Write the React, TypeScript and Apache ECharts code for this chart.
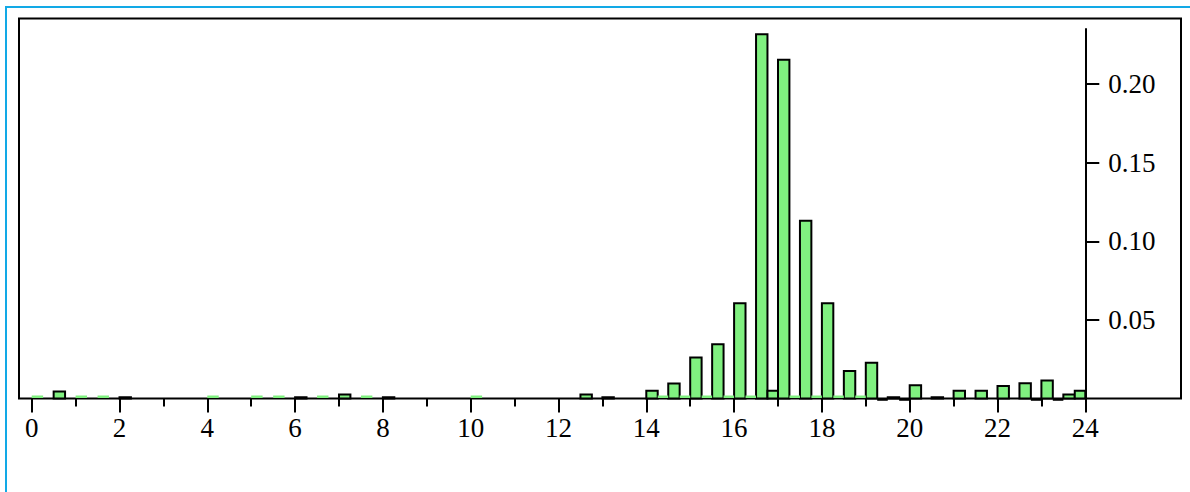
import React, { useEffect, useRef } from "react";
import * as echarts from "echarts";

// Histogram bins (left edge of each main bin) and their heights
const mainBinStarts = [
  0, 0.5, 1, 1.5, 2, 2.5, 3, 3.5, 4, 4.5, 5, 5.5, 6, 6.5, 7, 7.5, 8, 8.5, 9, 9.5,
  10, 10.5, 11, 11.5, 12, 12.5, 13, 13.5, 14, 14.5, 15, 15.5, 16, 16.5, 17, 17.5,
  18, 18.5, 19, 19.5, 20, 20.5, 21, 21.5, 22, 22.5, 23, 23.5,
];
const mainValues: (number | null)[] = [
  0, 0.0045, 0, 0, 0.0008, null, null, null, 0, null, 0, 0, 0.0008, 0, 0.0025, 0, 0.0008, null, null, null,
  0, null, null, null, null, 0.0025, 0.0008, null, 0.005, 0.0095, 0.026, 0.0345, 0.0605, 0.2316, 0.2155, 0.113,
  0.0605, 0.0175, 0.0228, 0.0008, 0.0085, 0.0008, 0.005, 0.005, 0.008, 0.0097, 0.0115, 0.0025,
];
// Secondary (narrow) bins sitting right after the main ones
const sideBinStarts = [
  14.26, 14.76, 15.26, 15.76, 16.26, 16.76, 17.26, 17.76, 18.26, 18.76, 19.26, 19.76, 22.76, 23.26, 23.76,
];
const sideValues = [0, 0, 0, 0, 0, 0.005, 0, 0, 0, 0, -0.0005, -0.0005, -0.0005, -0.0005, 0.005];

const yTickValues = [0.05, 0.1, 0.15, 0.2];

const MAIN_W = 0.26;
const SIDE_W = 0.24;
const GREEN = "#80f080";
const FONT = "Liberation Serif";

export default function App() {
  const ref = useRef<HTMLDivElement>(null);

  useEffect(() => {
    if (!ref.current) return;
    const chart = echarts.init(ref.current, null, { renderer: "svg" });

    const data: number[][] = [];
    mainBinStarts.forEach((s, i) => {
      const v = mainValues[i];
      if (v !== null && v !== undefined) data.push([s, s + MAIN_W, v]);
    });
    sideBinStarts.forEach((s, i) => {
      data.push([s, s + SIDE_W, sideValues[i]]);
    });

    chart.setOption({
      animation: false,
      backgroundColor: "#ffffff",
      graphic: [
        {
          type: "rect",
          z: 0,
          shape: { x: 6, y: 7, width: 1200, height: 500 },
          style: { fill: "none", stroke: "#12a9e6", lineWidth: 2 },
        },
        {
          type: "rect",
          z: 0,
          shape: { x: 19, y: 18.5, width: 1162, height: 380 },
          style: { fill: "none", stroke: "#000", lineWidth: 2 },
        },
      ],
      grid: { left: 31.7, right: 104.7, top: 29, bottom: 93.5, containLabel: false },
      xAxis: {
        type: "value",
        min: 0,
        max: 24,
        interval: 2,
        axisLine: { show: false },
        axisTick: { show: true, length: 14, lineStyle: { color: "#000", width: 2 } },
        minorTick: { show: true, splitNumber: 2, length: 8, lineStyle: { color: "#000", width: 2 } },
        splitLine: { show: false },
        minorSplitLine: { show: false },
        axisLabel: { fontSize: 27, fontFamily: FONT, color: "#000", margin: 16 },
      },
      yAxis: {
        type: "value",
        position: "right",
        min: 0,
        max: 0.235,
        axisLine: { show: true, onZero: false, lineStyle: { color: "#000", width: 2 } },
        axisTick: { show: true, length: 14, customValues: yTickValues, lineStyle: { color: "#000", width: 2 } },
        splitLine: { show: false },
        axisLabel: {
          customValues: yTickValues,
          fontSize: 27,
          fontFamily: FONT,
          color: "#000",
          margin: 23,
          formatter: (v: number) => v.toFixed(2),
        },
      },
      series: [
        {
          type: "custom",
          z: 5,
          encode: { x: [0, 1], y: 2 },
          data,
          renderItem: (params: any, api: any) => {
            const s = api.value(0);
            const e = api.value(1);
            const v = api.value(2);
            const p0 = api.coord([s, 0]);
            const p1 = api.coord([e, v]);
            const w = p1[0] - p0[0];
            if (v === 0) {
              return {
                type: "rect",
                shape: { x: p0[0], y: p0[1] - 3, width: w, height: 2.5 },
                style: { fill: GREEN },
              };
            }
            if (v < 0) {
              return {
                type: "rect",
                shape: { x: p0[0], y: p0[1], width: w, height: p1[1] - p0[1] + 1.5 },
                style: { fill: "#000" },
              };
            }
            return {
              type: "rect",
              shape: { x: p0[0], y: p1[1], width: w, height: p0[1] - p1[1] },
              style: { fill: GREEN, stroke: "#000", lineWidth: 2 },
            };
          },
        },
      ],
    });

    return () => chart.dispose();
  }, []);

  return (
    <div
      ref={ref}
      style={{ position: "fixed", left: 0, top: 0, width: 1190, height: 492, background: "#fff" }}
    />
  );
}
